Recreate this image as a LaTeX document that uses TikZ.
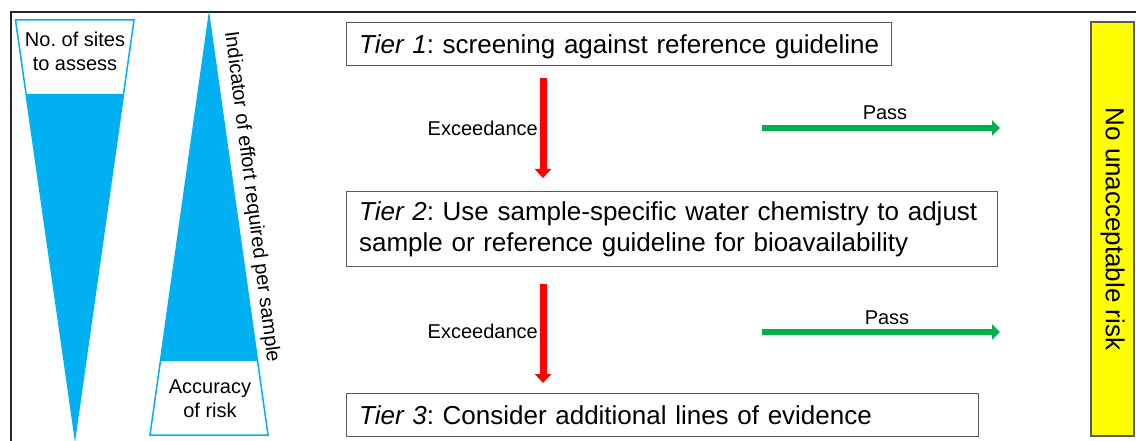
\documentclass[tikz,border=0pt]{standalone}
\usepackage{fontspec}
\setmainfont{Liberation Sans}
\usetikzlibrary{arrows.meta}
\definecolor{tricyan}{HTML}{00B0F0}
\definecolor{passgreen}{HTML}{00B050}
\definecolor{excred}{HTML}{FF0000}
\definecolor{noyellow}{HTML}{FFFF00}
\definecolor{boxgray}{HTML}{5A5A5A}
\frenchspacing
\tikzset{
  tierbox/.style={draw=boxgray, line width=1.2pt, anchor=north west, align=left,
    inner xsep=12.5pt, inner ysep=0pt, font=\fontsize{26}{31}\selectfont\frenchspacing},
  smalltxt/.style={inner sep=0pt, font=\fontsize{20}{24}\selectfont\frenchspacing},
  redarrow/.style={draw=excred, line width=7pt, -{Triangle[width=16pt,length=9pt]}},
  greenarrow/.style={draw=passgreen, line width=6.5pt, -{Triangle[width=15pt,length=8pt]}},
}
\begin{document}
\begin{tikzpicture}[x=1pt,y=-1pt]
\useasboundingbox (0,0) rectangle (1136,441);
% frame
\draw[line width=2pt, black!85] (11,445) -- (11,12) -- (1140,12);
% left inverted triangle
\fill[tricyan] (26,94) -- (123.5,94) -- (75,437) -- cycle;
\draw[tricyan, line width=1.5pt, line join=miter] (15.5,20) -- (134,20) -- (75,437) -- cycle;
\node[smalltxt, anchor=north, align=center] (sites) at (75,31.5) {No. of sites\\to assess};
% right upright triangle
\fill[tricyan] (209,16) -- (160.4,361) -- (257.6,361) -- cycle;
\draw[tricyan, line width=1.5pt, line join=miter] (209,16) -- (268,435) -- (150,435) -- cycle;
\node[smalltxt, anchor=north, align=center] (acc) at (210,380) {Accuracy\\of risk};
\node[smalltxt, rotate=-82.7] (effort) at (251.5,197) {Indicator of effort required per sample};
% tier boxes
\node[tierbox, minimum width=545pt, minimum height=43pt, text width=520pt,
      text height=23pt, text depth=5pt] (t1) at (346,22) {\mbox{\textit{Tier 1}: screening against reference guideline}};
\node[tierbox, minimum width=651pt, minimum height=75pt, text width=626pt] (t2) at (346,191)
  {\mbox{\textit{Tier 2}: Use sample-specific water chemistry to adjust}\\\mbox{sample or reference guideline for bioavailability}};
\node[tierbox, minimum width=632pt, minimum height=43pt, text width=607pt,
      text height=23pt, text depth=5pt] (t3) at (346,393) {\mbox{\textit{Tier 3}: Consider additional lines of evidence}};
% result box
\node[draw=boxgray, line width=1.2pt, fill=noyellow, minimum width=43pt, minimum height=414pt, inner sep=0pt] (nr) at (1112.5,229) {};
\node[inner sep=0pt, rotate=-90, font=\fontsize{26}{31}\selectfont] (nrtext) at (nr.center) {No unacceptable risk};
% red arrows
\coordinate (ax) at (543,0);
\draw[redarrow, shorten <=12pt, shorten >=13pt] (t1.south -| ax) -- (t2.north -| ax);
\draw[redarrow, shorten <=16.5pt, shorten >=10pt] (t2.south -| ax) -- (t3.north -| ax);
\node[smalltxt, anchor=east] (e1) at (538,128) {Exceedance};
\node[smalltxt, anchor=east] (e2) at (538,331) {Exceedance};
% green arrows
\coordinate (p1a) at (762,128);
\coordinate (p1b) at (1000,128);
\coordinate (p2a) at (762,332);
\coordinate (p2b) at (1000,332);
\draw[greenarrow] (p1a) -- (p1b);
\draw[greenarrow] (p2a) -- (p2b);
\node[smalltxt] (pass1) at (885,113) {Pass};
\node[smalltxt] (pass2) at (887,317.5) {Pass};
\end{tikzpicture}
\end{document}
